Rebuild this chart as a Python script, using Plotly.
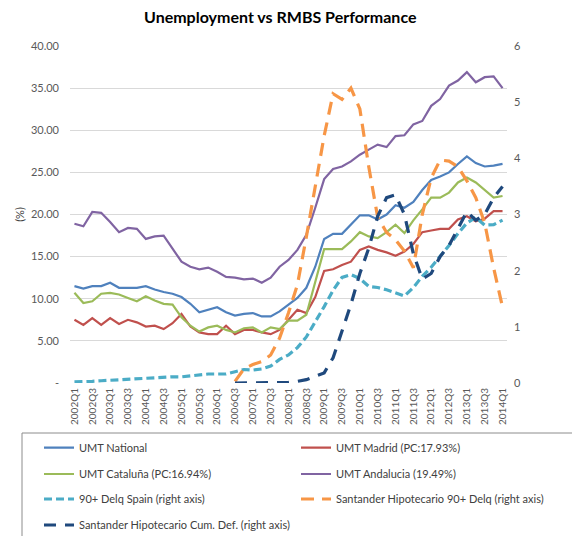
import plotly.graph_objects as go

# quarters 2002Q1 .. 2014Q1
quarters = [f"{y}Q{q}" for y in range(2002, 2015) for q in (1, 2, 3, 4)][:49]
tick_quarters = quarters[::2]

# unemployment rates (%), left axis
umt_national = [11.5, 11.2, 11.5, 11.5, 11.9, 11.3, 11.3, 11.3, 11.5, 11.1, 10.8, 10.6, 10.2,
                9.4, 8.4, 8.7, 9.0, 8.4, 8.0, 8.2, 8.3, 7.9, 7.9, 8.5, 9.3, 10.1, 11.3,
                13.8, 17.1, 17.7, 17.7, 18.8, 19.9, 19.9, 19.4, 20.0, 21.1, 20.8, 21.5, 22.9,
                24.1, 24.5, 25.0, 26.0, 26.9, 26.1, 25.7, 25.8, 26.0]
umt_madrid = [7.5, 6.9, 7.7, 6.9, 7.7, 7.0, 7.5, 7.2, 6.7, 6.8, 6.4, 7.1, 8.2,
              6.7, 6.0, 5.8, 5.8, 6.8, 5.8, 6.3, 6.3, 6.0, 5.8, 6.3, 7.5, 8.7, 8.3,
              10.2, 13.3, 13.5, 14.0, 14.4, 15.8, 16.2, 15.8, 15.5, 15.1, 15.6, 16.5, 17.9,
              18.1, 18.3, 18.3, 19.4, 19.8, 19.2, 19.5, 20.4, 20.4]
umt_cataluna = [10.7, 9.5, 9.7, 10.6, 10.7, 10.5, 10.1, 9.7, 10.3, 9.8, 9.4, 9.3, 7.8,
                6.8, 6.1, 6.6, 6.8, 6.3, 6.0, 6.5, 6.6, 6.0, 6.6, 6.4, 7.4, 7.4, 8.1,
                12.0, 15.9, 15.9, 15.9, 16.8, 17.9, 17.4, 17.2, 17.9, 18.8, 17.8, 19.3, 20.6,
                22.0, 22.0, 22.6, 23.8, 24.4, 23.8, 22.9, 22.0, 22.2]
umt_andalucia = [18.9, 18.6, 20.3, 20.2, 19.1, 17.9, 18.4, 18.3, 17.1, 17.4, 17.5, 16.0, 14.4,
                 13.8, 13.5, 13.7, 13.2, 12.6, 12.5, 12.3, 12.4, 11.9, 12.5, 13.8, 14.6, 15.8, 17.6,
                 20.8, 24.2, 25.4, 25.7, 26.3, 27.1, 27.7, 28.3, 28.0, 29.3, 29.4, 30.7, 31.1,
                 32.9, 33.7, 35.3, 35.9, 36.9, 35.7, 36.3, 36.4, 35.0]

# RMBS performance (%), right axis
delq_spain = [0.02, 0.02, 0.03, 0.04, 0.05, 0.06, 0.07, 0.08, 0.09, 0.10, 0.10, 0.11, 0.11,
              0.13, 0.15, 0.16, 0.16, 0.16, 0.20, 0.24, 0.23, 0.25, 0.30, 0.42, 0.50, 0.63, 0.82,
              1.08, 1.36, 1.65, 1.88, 1.93, 1.86, 1.72, 1.70, 1.66, 1.60, 1.55, 1.70, 1.90,
              2.06, 2.25, 2.45, 2.66, 2.85, 2.95, 2.81, 2.82, 2.90]
santander_delq = [None] * 18 + [0.03, 0.25, 0.33, 0.38, 0.5, 0.8, 1.25, 1.75, 2.6,
                                3.5, 4.4, 5.15, 5.05, 5.25, 4.88, 3.85, 2.95, 2.68, 2.55, 2.35, 2.05, 3.0,
                                3.65, 3.97, 3.95, 3.85, 3.6, 3.3, 2.85, 2.05, 1.35]
santander_cumdef = [None] * 18 + [0.0, 0.0, 0.0, 0.0, 0.0, 0.0, 0.01, 0.03, 0.06,
                                  0.12, 0.18, 0.45, 0.92, 1.4, 1.95, 2.4, 2.97, 3.3, 3.35, 3.0, 2.3, 1.85,
                                  1.95, 2.25, 2.45, 2.75, 3.05, 2.9, 3.0, 3.3, 3.5]

left_ticks = [0, 5, 10, 15, 20, 25, 30, 35, 40]
left_ticktext = ["-", "5.00", "10.00", "15.00", "20.00", "25.00", "30.00", "35.00", "40.00"]

FONT = "Lato"
GREY = "#595959"

# plot area: x 70..507, y 46..383 in pixels
def px_x(p):
    return (p - 70) / 437

def px_y(p):
    return (383 - p) / 337

# name, values, axis, colour, dash, width, legend column (x px), legend row (y px)
series = [
    ("UMT National", umt_national, "y", "#4f81bd", None, 2.2, 39, 447.7),
    ("UMT Madrid (PC:17.93%)", umt_madrid, "y", "#c0504d", None, 2.2, 296, 447.7),
    ("UMT Cataluña (PC:16.94%)", umt_cataluna, "y", "#9bbb59", None, 2.2, 39, 474),
    ("UMT Andalucia (19.49%)", umt_andalucia, "y", "#8064a2", None, 2.2, 296, 474),
    ("90+ Delq Spain (right axis)", delq_spain, "y2", "#4bacc6", "8px,4px", 3.2, 39, 499),
    ("Santander Hipotecario 90+ Delq (right axis)", santander_delq, "y2", "#f79646", "13px,8px", 3.2, 296, 499),
    ("Santander Hipotecario Cum. Def. (right axis)", santander_cumdef, "y2", "#1f497d", "12px,9px", 3.2, 39, 525),
]

fig = go.Figure()
legends = {}
for k, (name, vals, yax, color, dash, w, lx, ly) in enumerate(series):
    key = "legend" if k == 0 else f"legend{k + 1}"
    fig.add_trace(go.Scatter(
        x=quarters, y=vals, name=name, yaxis=yax, mode="lines",
        line=dict(color=color, width=w, dash=dash), legend=key, connectgaps=False,
    ))
    legends[key] = dict(
        x=px_x(lx), xanchor="left", y=px_y(ly), yanchor="middle",
        bgcolor="rgba(0,0,0,0)", font=dict(family=FONT, size=11, color="#404040"),
    )

fig.update_layout(
    width=572, height=536,
    margin=dict(l=70, r=65, t=46, b=153, autoexpand=False),
    paper_bgcolor="white", plot_bgcolor="white",
    title=dict(text="<b>Unemployment vs RMBS Performance</b>", x=0.49, xanchor="center",
               y=1 - 17 / 536, yanchor="middle",
               font=dict(family=FONT, size=16, color="black")),
    xaxis=dict(type="category", categoryorder="array", categoryarray=quarters,
               tickmode="array", tickvals=tick_quarters, tickangle=-90,
               tickfont=dict(family=FONT, size=10, color=GREY), ticklabelstandoff=2,
               showgrid=False, showline=False, zeroline=False, ticks="",
               range=[-0.5, len(quarters) - 0.5], automargin=False),
    yaxis=dict(range=[0, 40], tickmode="array", tickvals=left_ticks, ticktext=left_ticktext,
               tickfont=dict(family=FONT, size=11, color=GREY), ticklabelstandoff=10,
               showgrid=True, gridcolor="#d9d9d9", gridwidth=1, zeroline=False,
               title=dict(text="(%)", font=dict(family=FONT, size=11, color="#404040"), standoff=4),
               automargin=False),
    yaxis2=dict(range=[0, 6], overlaying="y", side="right", dtick=1,
                tickfont=dict(family=FONT, size=11, color=GREY), ticklabelstandoff=6,
                showgrid=False, zeroline=False, automargin=False),
    showlegend=True,
    **legends,
)

# legend frame
fig.add_shape(type="rect", xref="paper", yref="paper",
              x0=px_x(22), x1=px_x(600), y0=px_y(433), y1=px_y(600),
              line=dict(color="#8c8c8c", width=1), fillcolor="rgba(0,0,0,0)", layer="below")

fig.write_html("out.html", config={"displayModeBar": False},
               post_script="document.body.style.margin='0';")
